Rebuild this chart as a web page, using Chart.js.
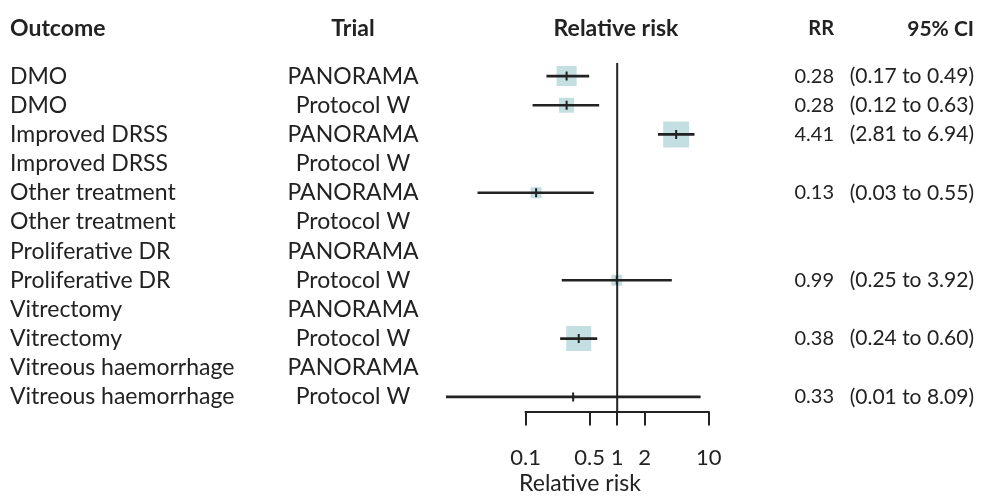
<!DOCTYPE html>
<html>
<head>
<meta charset="utf-8">
<script src="https://cdn.jsdelivr.net/npm/chart.js@4.4.1/dist/chart.umd.min.js"></script>
<style>
  html, body { margin: 0; padding: 0; background: #ffffff; }
  #wrap { width: 982px; height: 496px; }
</style>
</head>
<body>
<div id="wrap"><canvas id="forest" width="982" height="496"></canvas></div>
<script>
// Rows of the forest plot, top to bottom
const outcomes = [
  'DMO', 'DMO', 'Improved DRSS', 'Improved DRSS', 'Other treatment', 'Other treatment',
  'Proliferative DR', 'Proliferative DR', 'Vitrectomy', 'Vitrectomy',
  'Vitreous haemorrhage', 'Vitreous haemorrhage'
];
const trials = [
  'PANORAMA', 'Protocol W', 'PANORAMA', 'Protocol W', 'PANORAMA', 'Protocol W',
  'PANORAMA', 'Protocol W', 'PANORAMA', 'Protocol W', 'PANORAMA', 'Protocol W'
];
// Relative risk with 95% confidence interval (null = not estimable)
const rr     = [0.28, 0.28, 4.41, null, 0.13, null, null, 0.99, null, 0.38, null, 0.33];
const ciLow  = [0.17, 0.12, 2.81, null, 0.03, null, null, 0.25, null, 0.24, null, 0.01];
const ciHigh = [0.49, 0.63, 6.94, null, 0.55, null, null, 3.92, null, 0.60, null, 8.09];
// Relative study weight, shown as the box size
const weights = [0.77, 0.58, 1.0, null, 0.42, null, null, 0.42, null, 0.96, null, 0.13];
// Axis ticks
const xTicks = [0.1, 0.5, 1, 2, 10];

const FONT = 'Lato';
const INK = '#222222';
const BOX = '#c3dfe2';
const BOX_MAX = 26; // px side of the heaviest box

const rows = outcomes.map((_, i) => i + 1);
const fmt = v => v.toFixed(2);

const ciData = [], estData = [], boxData = [], boxRadius = [];
rows.forEach((r, i) => {
  if (rr[i] == null) return;
  ciData.push({ y: r, x: [ciLow[i], ciHigh[i]] });
  estData.push({ x: rr[i], y: r });
  boxData.push({ x: rr[i], y: r });
  boxRadius.push((BOX_MAX * weights[i]) / (2 * Math.SQRT1_2));
});

// Table text and the axis baseline between the outer ticks
const tablePlugin = {
  id: 'forestTable',
  afterDraw(chart) {
    const { ctx, scales } = chart;
    const ys = scales.y, xs = scales.x;
    ctx.save();
    ctx.fillStyle = INK;
    ctx.textBaseline = 'middle';

    const headY = 29;
    ctx.font = `bold 23px ${FONT}`;
    ctx.textAlign = 'left';   ctx.fillText('Outcome', 10, headY);
    ctx.textAlign = 'center'; ctx.fillText('Trial', 353, headY);
    ctx.textAlign = 'center'; ctx.fillText('Relative risk', 616, headY);
    ctx.font = `bold 20px ${FONT}`;
    ctx.textAlign = 'right';  ctx.fillText('RR', 834, headY);
    ctx.font = `bold 21px ${FONT}`;
    ctx.textAlign = 'right';  ctx.fillText('95% CI', 974, headY);

    rows.forEach((r, i) => {
      const y = ys.getPixelForValue(r);
      ctx.font = `23px ${FONT}`;
      ctx.textAlign = 'left';   ctx.fillText(outcomes[i], 10, y);
      ctx.textAlign = 'center'; ctx.fillText(trials[i], 353, y);
      if (rr[i] != null) {
        ctx.textAlign = 'right';
        ctx.font = `20px ${FONT}`;
        ctx.fillText(fmt(rr[i]), 834, y);
        ctx.font = `21px ${FONT}`;
        ctx.fillText(`(${fmt(ciLow[i])} to ${fmt(ciHigh[i])})`, 974, y);
      }
    });

    // axis baseline from the first to the last tick
    const yb = Math.round(chart.chartArea.bottom);
    ctx.strokeStyle = INK;
    ctx.lineWidth = 2;
    ctx.beginPath();
    ctx.moveTo(xs.getPixelForValue(xTicks[0]) - 1, yb);
    ctx.lineTo(xs.getPixelForValue(xTicks[xTicks.length - 1]) + 1, yb);
    ctx.stroke();
    ctx.restore();
  }
};

new Chart(document.getElementById('forest'), {
  data: {
    datasets: [
      {
        type: 'line',
        label: 'No effect',
        data: [{ x: 1, y: 0.55 }, { x: 1, y: 12.5 }],
        borderColor: INK,
        borderWidth: 2,
        pointRadius: 0,
        order: 0
      },
      {
        type: 'scatter',
        label: 'Estimate',
        data: estData,
        pointStyle: 'line',
        rotation: 90,
        pointRadius: 4.5,
        borderColor: INK,
        borderWidth: 2,
        order: 1
      },
      {
        type: 'bar',
        label: '95% CI',
        indexAxis: 'y',
        data: ciData,
        backgroundColor: INK,
        barThickness: 2,
        grouped: false,
        order: 2
      },
      {
        type: 'scatter',
        label: 'Weight',
        data: boxData,
        pointStyle: 'rect',
        pointRadius: boxRadius,
        backgroundColor: BOX,
        borderWidth: 0,
        order: 3
      }
    ]
  },
  options: {
    responsive: false,
    animation: false,
    events: [],
    layout: { padding: { left: 446, right: 268, top: 61.5, bottom: 0 } },
    plugins: { legend: { display: false }, tooltip: { enabled: false } },
    scales: {
      x: {
        type: 'logarithmic',
        min: 0.01346,
        max: 11.43,
        afterBuildTicks: axis => { axis.ticks = xTicks.map(v => ({ value: v })); },
        border: { display: false },
        grid: { drawOnChartArea: false, drawTicks: true, tickLength: 14, color: INK, lineWidth: 2 },
        ticks: {
          color: INK,
          font: { family: FONT, size: 22 },
          padding: 19.5,
          maxRotation: 0,
          autoSkip: false,
          callback: v => String(v)
        },
        title: {
          display: true,
          text: 'Relative risk',
          color: INK,
          font: { family: FONT, size: 23 },
          padding: { top: -21.2, bottom: -1.3 }
        }
      },
      y: {
        type: 'linear',
        reverse: true,
        offset: false,
        min: 0.5,
        max: 12.5,
        display: false
      }
    }
  },
  plugins: [tablePlugin]
});
</script>
</body>
</html>
